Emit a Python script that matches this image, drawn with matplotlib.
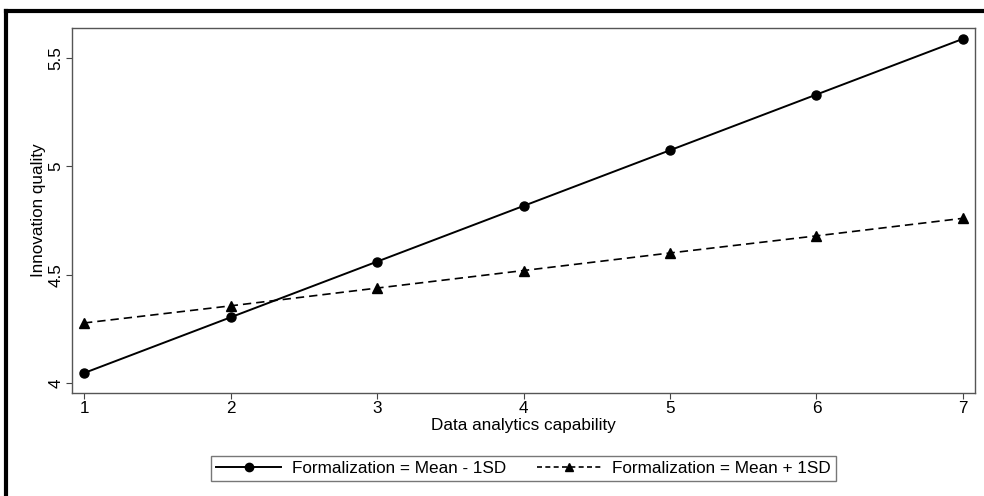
import matplotlib.pyplot as plt
from matplotlib.lines import Line2D

# data
capability = [1, 2, 3, 4, 5, 6, 7]
mean_minus = [4.046, 4.303, 4.560, 4.817, 5.074, 5.331, 5.588]
mean_plus = [4.277, 4.356, 4.438, 4.519, 4.600, 4.679, 4.760]
labels = ["Formalization = Mean - 1SD", "Formalization = Mean + 1SD"]

plt.rcParams['font.family'] = ['Liberation Sans', 'DejaVu Sans']

W, H = 984, 496
fig = plt.figure(figsize=(W / 100, H / 100), dpi=100)
ax = fig.add_axes([72 / W, 1 - 393 / H, (975 - 72) / W, (393 - 28) / H])

ax.plot(capability, mean_minus, color="black", lw=1.4, marker="o", ms=6.5)
ax.plot(capability, mean_plus, color="black", lw=1.2, ls=(0, (5, 3)), marker="^", ms=6.5)

ax.set_xlim(0.918, 7.082)
ax.set_ylim(3.954, 5.638)
ax.set_xticks(capability)
ax.set_yticks([4, 4.5, 5, 5.5])
ax.set_yticklabels(["4", "4.5", "5", "5.5"], rotation=90, va="center")
ax.tick_params(labelsize=12.3, length=4, width=0.8, color="#444444", pad=2)
for s in ax.spines.values():
    s.set_color("#555555")
    s.set_linewidth(1.0)

ax.set_xlabel("Data analytics capability", fontsize=12.3, labelpad=1)
ax.set_ylabel("Innovation quality", fontsize=12.3, labelpad=2)

handles = [
    Line2D([], [], color="black", lw=1.4, marker="o", ms=6),
    Line2D([], [], color="black", lw=1.2, ls=(0, (3, 2)), marker="^", ms=6),
]
leg = fig.legend(handles, labels, loc="center", bbox_to_anchor=(523.5 / W, 1 - 468.5 / H),
                 ncol=2, fontsize=12.3, frameon=True, fancybox=False, edgecolor="#555555",
                 handlelength=3.8, columnspacing=1.8, borderpad=0.3, handletextpad=0.6)
leg.get_frame().set_linewidth(1.0)

# outer border (left and top only)
fig.add_artist(Line2D([6 / W, 6 / W], [0, 1 - 11 / H], color="black", lw=3, transform=fig.transFigure))
fig.add_artist(Line2D([6 / W, 1], [1 - 11 / H, 1 - 11 / H], color="black", lw=3, transform=fig.transFigure))

fig.savefig("out.png", dpi=100)
